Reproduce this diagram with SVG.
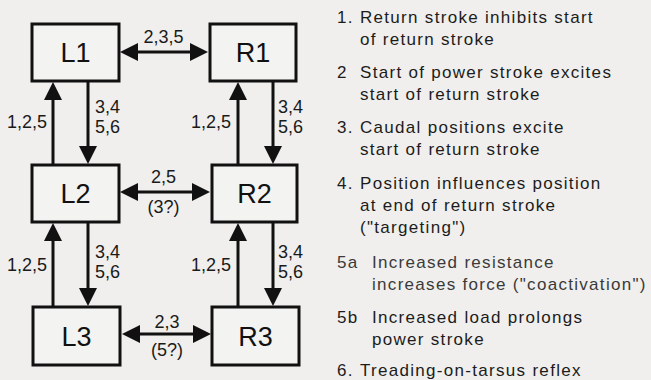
<svg xmlns="http://www.w3.org/2000/svg" width="651" height="380" viewBox="0 0 651 380">
<defs>
<style>
.box{fill:#f3f3f1;stroke:#111;stroke-width:3}
.nl{font-family:"Liberation Sans",Arial,sans-serif;font-size:27px;fill:#111;text-anchor:middle}
.el{font-family:"Liberation Sans",Arial,sans-serif;font-size:18px;fill:#1a1a1a}
.c{text-anchor:middle}
.cn line{stroke:#111;stroke-width:3}
.leg{font-family:"Liberation Sans",Arial,sans-serif;font-size:17px;fill:#1c1c1c;letter-spacing:1.3px}
.g{fill:#3a3a3a}
</style>
<marker id="ah" viewBox="0 0 18 18" refX="8" refY="9" markerWidth="18" markerHeight="18" markerUnits="userSpaceOnUse" orient="auto-start-reverse">
<path d="M0,0 L18,9 L0,18 Z" fill="#111"/>
</marker>
</defs>
<rect x="0" y="0" width="651" height="380" fill="#f0efed"/>
<g id="L1"><rect class="box" x="32" y="24" width="87" height="57"/><text class="nl" x="75.5" y="62">L1</text></g>
<g id="R1"><rect class="box" x="210" y="24" width="86" height="57"/><text class="nl" x="253" y="62">R1</text></g>
<g id="L2"><rect class="box" x="32" y="165" width="87" height="57"/><text class="nl" x="75.5" y="203">L2</text></g>
<g id="R2"><rect class="box" x="212" y="165" width="85" height="57"/><text class="nl" x="254.5" y="203">R2</text></g>
<g id="L3"><rect class="box" x="33" y="307" width="87" height="58"/><text class="nl" x="76.5" y="346">L3</text></g>
<g id="R3"><rect class="box" x="212" y="307" width="87" height="58"/><text class="nl" x="255.5" y="346">R3</text></g>
<g id="connectors" class="cn">
<line x1="130" y1="52" x2="198" y2="52" marker-start="url(#ah)" marker-end="url(#ah)"/>
<line x1="130" y1="192" x2="200" y2="192" marker-start="url(#ah)" marker-end="url(#ah)"/>
<line x1="132" y1="334" x2="201" y2="334" marker-start="url(#ah)" marker-end="url(#ah)"/>
<line x1="53" y1="165" x2="53" y2="92" marker-end="url(#ah)"/>
<line x1="88" y1="81" x2="88" y2="154" marker-end="url(#ah)"/>
<line x1="238" y1="165" x2="238" y2="92" marker-end="url(#ah)"/>
<line x1="273" y1="81" x2="273" y2="154" marker-end="url(#ah)"/>
<line x1="53" y1="307" x2="53" y2="233" marker-end="url(#ah)"/>
<line x1="88" y1="222" x2="88" y2="296" marker-end="url(#ah)"/>
<line x1="238" y1="307" x2="238" y2="233" marker-end="url(#ah)"/>
<line x1="273" y1="222" x2="273" y2="296" marker-end="url(#ah)"/>
<text class="el c" x="163.5" y="43">2,3,5</text>
<text class="el c" x="163.5" y="183">2,5</text>
<text class="el c" x="163.5" y="213">(3?)</text>
<text class="el c" x="167" y="328">2,3</text>
<text class="el c" x="167" y="356">(5?)</text>
<text class="el" x="7" y="128">1,2,5</text>
<text class="el" x="191" y="128">1,2,5</text>
<text class="el" x="7" y="271">1,2,5</text>
<text class="el" x="191" y="271">1,2,5</text>
<text class="el" x="95" y="113">3,4</text>
<text class="el" x="95" y="133">5,6</text>
<text class="el" x="278" y="113">3,4</text>
<text class="el" x="278" y="133">5,6</text>
<text class="el" x="95" y="258">3,4</text>
<text class="el" x="95" y="278">5,6</text>
<text class="el" x="278" y="258">3,4</text>
<text class="el" x="278" y="278">5,6</text>
</g>
<g id="legend">
<text class="leg" x="337" y="23">1.</text>
<text class="leg" x="360" y="23">Return stroke inhibits start</text>
<text class="leg" x="360" y="45">of return stroke</text>
<text class="leg" x="337" y="78">2</text>
<text class="leg" x="360" y="78">Start of power stroke excites</text>
<text class="leg" x="360" y="100">start of return stroke</text>
<text class="leg" x="337" y="133">3.</text>
<text class="leg" x="360" y="133">Caudal positions excite</text>
<text class="leg" x="360" y="155">start of return stroke</text>
<text class="leg" x="337" y="189">4.</text>
<text class="leg" x="360" y="189">Position influences position</text>
<text class="leg" x="360" y="211">at end of return stroke</text>
<text class="leg" x="360" y="233">("targeting")</text>
<text class="leg g" x="337" y="268">5a</text>
<text class="leg g" x="372" y="268">Increased resistance</text>
<text class="leg g" x="372" y="290">increases force ("coactivation")</text>
<text class="leg" x="337" y="323">5b</text>
<text class="leg" x="372" y="323">Increased load prolongs</text>
<text class="leg" x="372" y="345">power stroke</text>
<text class="leg" x="337" y="376">6.</text>
<text class="leg" x="360" y="376">Treading-on-tarsus reflex</text>
</g>
</svg>
